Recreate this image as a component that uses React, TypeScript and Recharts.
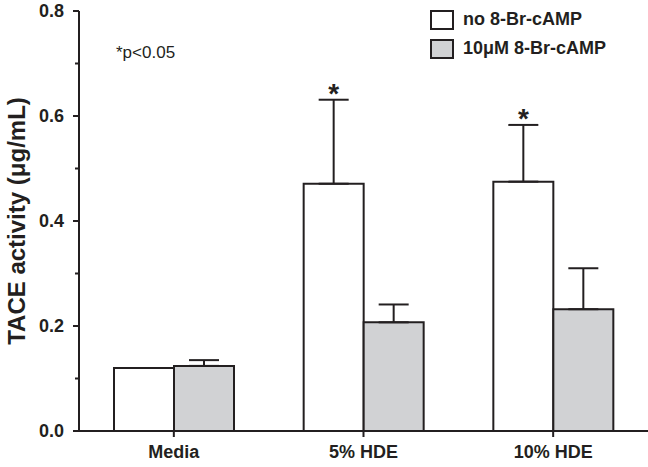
import React from "react"
import { BarChart, Bar, XAxis, YAxis, ErrorBar, LabelList } from "recharts"

const groups = ["Media", "5% HDE", "10% HDE"]
const noCamp = [0.12, 0.471, 0.475]
const noCampErr = [0, 0.16, 0.108]
const withCamp = [0.124, 0.207, 0.232]
const withCampErr = [0.011, 0.034, 0.078]
const significant = [false, true, true]
const yTicks = [0, 0.1, 0.2, 0.3, 0.4, 0.5, 0.6, 0.7, 0.8]

const INK = "#231f20"
const GREY = "#d1d2d4"
const FONT = "'Liberation Sans', Arial, sans-serif"

const data = groups.map((g, i) => ({
  group: g,
  noCamp: noCamp[i],
  noCampErr: [0, noCampErr[i]],
  withCamp: withCamp[i],
  withCampErr: [0, withCampErr[i]],
}))

function YTick(props: any) {
  const { x, y, payload } = props
  const axisX = x + 15
  const major = Math.round(payload.value * 10) % 2 === 0
  return (
    <g>
      <line x1={axisX - (major ? 6 : 4)} x2={axisX} y1={y} y2={y} stroke={INK} strokeWidth={2} />
      {major && (
        <text x={x} y={y} dy="0.355em" textAnchor="end" fontSize={18} fontWeight="bold" fill={INK} fontFamily={FONT}>
          {payload.value.toFixed(1)}
        </text>
      )}
    </g>
  )
}

function Star(props: any) {
  const { x, y, width, height, value, index } = props
  if (!significant[index]) return null
  const k = height / value
  const capY = y - noCampErr[index] * k
  return (
    <text x={x + width / 2} y={capY + 3} textAnchor="middle" fontSize={28} fontWeight="bold" fill={INK} fontFamily={FONT}>
      *
    </text>
  )
}

function LegendBox() {
  const items = [
    { label: "no 8-Br-cAMP", fill: "#ffffff" },
    { label: "10\u03bcM 8-Br-cAMP", fill: GREY },
  ]
  return (
    <div style={{ position: "absolute", left: 430, top: 5, fontFamily: FONT }}>
      {items.map((it) => (
        <div key={it.label} style={{ display: "flex", alignItems: "center", height: 29 }}>
          <div style={{ width: 20, height: 16, border: `2px solid ${INK}`, background: it.fill, marginRight: 9 }} />
          <span style={{ fontSize: 18, fontWeight: "bold", color: INK }}>{it.label}</span>
        </div>
      ))}
    </div>
  )
}

export default function App() {
  return (
    <div style={{ position: "absolute", left: 0, top: 0, width: 648, height: 467, background: "#fff" }}>
      <BarChart width={648} height={467} data={data} margin={{ top: 11, right: 0, bottom: 0, left: 0 }} barGap={0} barSize={60}>
        <XAxis
          dataKey="group"
          height={36}
          tickSize={6}
          tickMargin={8}
          axisLine={{ stroke: INK, strokeWidth: 2 }}
          tickLine={{ stroke: INK, strokeWidth: 2 }}
          tick={{ fontSize: 18, fontWeight: "bold", fill: INK, fontFamily: FONT }}
        />
        <YAxis
          width={79}
          domain={[0, 0.8]}
          ticks={yTicks}
          interval={0}
          tickSize={6}
          tickMargin={9}
          tickLine={false}
          axisLine={{ stroke: INK, strokeWidth: 2 }}
          tick={<YTick />}
          label={{
            content: () => (
              <text
                x={16}
                y={221}
                transform="rotate(-90 16 221)"
                textAnchor="middle"
                dominantBaseline="central"
                fontSize={24}
                fontWeight="bold"
                fill={INK}
                fontFamily={FONT}
              >
                TACE activity (μg/mL)
              </text>
            ),
          }}
        />
        <Bar dataKey="noCamp" fill="#ffffff" stroke={INK} strokeWidth={2} isAnimationActive={false}>
          <ErrorBar dataKey="noCampErr" width={15} stroke={INK} strokeWidth={2} direction="y" />
          <LabelList dataKey="noCamp" content={<Star />} />
        </Bar>
        <Bar dataKey="withCamp" fill={GREY} stroke={INK} strokeWidth={2} isAnimationActive={false}>
          <ErrorBar dataKey="withCampErr" width={15} stroke={INK} strokeWidth={2} direction="y" />
        </Bar>
      </BarChart>
      <LegendBox />
      <div style={{ position: "absolute", left: 116, top: 43, fontSize: 17, color: INK, fontFamily: FONT }}>*p&lt;0.05</div>
    </div>
  )
}
